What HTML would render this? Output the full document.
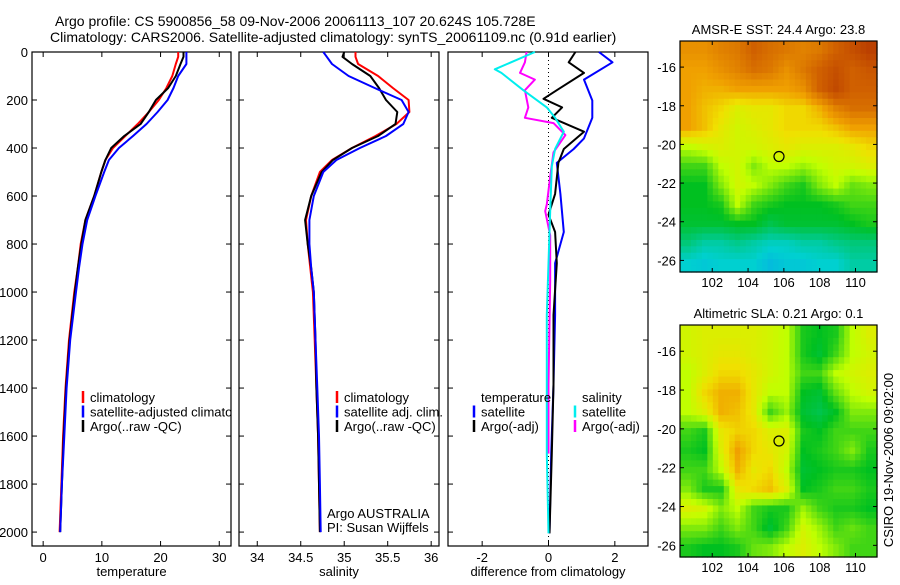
<!DOCTYPE html>
<html><head><meta charset="utf-8"><style>
body{margin:0;background:#fff;}
svg text{font-family:"Liberation Sans",sans-serif;fill:#000;}
</style></head><body>
<svg id="c" width="900" height="580" xmlns="http://www.w3.org/2000/svg">
<text x="55" y="26" font-size="14">Argo profile: CS 5900856_58 09-Nov-2006 20061113_107 20.624S 105.728E</text>
<text x="50" y="42" font-size="14">Climatology: CARS2006. Satellite-adjusted climatology: synTS_20061109.nc (0.91d earlier)</text>
</svg>
<script>
// ---- data ----
const depthTicks=[0,200,400,600,800,1000,1200,1400,1600,1800,2000];
const tempTicks=[0,10,20,30];
const salTicks=[34,34.5,35,35.5,36];
const diffTicks=[-2,0,2];
const profDepth=[0,20,50,100,150,200,250,300,350,400,450,500,600,700,800,900,1000,1200,1400,1600,1800,2000];
const tempClim=[23.0,23.0,22.6,22.0,21.0,19.7,18.0,16.1,14.0,11.9,10.6,9.9,8.7,7.2,6.4,5.9,5.3,4.4,3.8,3.4,3.1,2.8];
const tempSat=[24.4,24.4,24.4,23.0,22.2,21.2,19.5,17.6,15.3,12.9,11.2,10.4,8.9,7.5,6.7,6.1,5.6,4.6,4.0,3.6,3.2,2.9];
const tempArgo=[23.9,23.9,23.4,22.6,21.3,19.2,18.0,16.6,13.8,11.6,10.6,9.9,8.7,7.2,6.5,5.9,5.4,4.5,3.9,3.5,3.2,2.9];
const salClim=[35.13,35.13,35.16,35.39,35.56,35.74,35.75,35.6,35.36,35.09,34.86,34.72,34.62,34.56,34.58,34.61,34.64,34.66,34.68,34.7,34.71,34.72];
const salSat=[34.76,34.8,34.86,35.05,35.35,35.66,35.74,35.68,35.48,35.18,34.91,34.76,34.65,34.6,34.6,34.62,34.65,34.67,34.69,34.71,34.72,34.73];
const salArgo=[35.0,34.98,35.09,35.3,35.4,35.48,35.61,35.59,35.39,35.09,34.87,34.74,34.62,34.55,34.58,34.62,34.65,34.67,34.68,34.7,34.71,34.72];
const dTsatDepth=[0,43,115,202,274,360,404,462,591,750,880,1096,1385,1673,2005];
const dTsat=[1.52,1.93,1.07,1.32,1.32,1.07,0.76,0.25,0.36,0.46,0.2,0.2,0.15,0.08,0.03];
const dTargoDepth=[0,43,87,159,195,231,274,332,404,461,591,678,750,880,1096,1385,1673,2005];
const dTargo=[0.81,0.61,1.07,0.25,-0.15,0.41,0.1,1.07,0.46,0.3,0.2,0.0,0.2,0.25,0.15,0.15,0.1,0.03];
const dSsatDepth=[0,72,87,159,231,274,332,404,476,663,1096,1385,1673,2005];
const dSsat=[-0.41,-1.62,-1.42,-0.76,-0.05,0.2,0.46,0.2,0.1,0.05,-0.05,-0.05,-0.05,0.0];
const dSargoDepth=[0,43,87,115,159,231,274,296,346,418,519,635,663,764,952,1385,1673];
const dSargo=[-0.66,-0.71,-0.86,-0.41,-0.71,-0.61,-0.71,0.15,0.51,0.15,0.05,-0.05,-0.1,0.05,0.05,0.0,0.0];
const lonTicks=[102,104,106,108,110];
const latTicks=[-16,-18,-20,-22,-24,-26];
const sstGrid=[
[0.75,0.75,0.78,0.8,0.85,0.82,0.8,0.78,0.8,0.85,0.9,0.95],
[0.72,0.72,0.75,0.78,0.82,0.8,0.75,0.8,0.85,0.9,0.85,0.88],
[0.72,0.7,0.7,0.72,0.72,0.72,0.72,0.75,0.85,0.92,0.85,0.85],
[0.72,0.68,0.65,0.6,0.62,0.62,0.65,0.65,0.7,0.78,0.82,0.82],
[0.72,0.68,0.62,0.58,0.6,0.62,0.65,0.65,0.65,0.68,0.72,0.72],
[0.55,0.58,0.6,0.58,0.58,0.6,0.62,0.6,0.6,0.6,0.62,0.65],
[0.45,0.45,0.55,0.58,0.5,0.55,0.55,0.52,0.55,0.58,0.58,0.6],
[0.4,0.4,0.5,0.58,0.55,0.5,0.45,0.42,0.5,0.55,0.48,0.5],
[0.4,0.4,0.42,0.55,0.45,0.42,0.4,0.4,0.4,0.42,0.45,0.45],
[0.38,0.38,0.38,0.4,0.4,0.35,0.38,0.38,0.38,0.38,0.4,0.42],
[0.3,0.25,0.25,0.28,0.25,0.22,0.22,0.25,0.25,0.28,0.3,0.3],
[0.2,0.18,0.2,0.2,0.2,0.15,0.18,0.18,0.2,0.2,0.25,0.25]];
const slaGrid=[
[0.58,0.6,0.6,0.6,0.6,0.58,0.55,0.42,0.4,0.42,0.55,0.6],
[0.58,0.6,0.62,0.62,0.6,0.58,0.55,0.42,0.38,0.45,0.55,0.58],
[0.55,0.6,0.65,0.65,0.62,0.58,0.55,0.45,0.45,0.55,0.58,0.6],
[0.55,0.65,0.7,0.7,0.62,0.55,0.55,0.4,0.38,0.48,0.55,0.58],
[0.55,0.6,0.7,0.68,0.62,0.45,0.52,0.38,0.35,0.4,0.5,0.5],
[0.45,0.42,0.62,0.66,0.65,0.6,0.6,0.42,0.4,0.45,0.45,0.45],
[0.42,0.4,0.6,0.72,0.65,0.62,0.58,0.4,0.42,0.45,0.5,0.42],
[0.45,0.45,0.55,0.7,0.62,0.65,0.55,0.38,0.4,0.42,0.42,0.4],
[0.5,0.42,0.42,0.62,0.65,0.68,0.6,0.4,0.42,0.45,0.45,0.42],
[0.6,0.58,0.5,0.55,0.45,0.42,0.42,0.52,0.45,0.42,0.42,0.4],
[0.5,0.5,0.45,0.5,0.45,0.38,0.45,0.58,0.52,0.45,0.48,0.45],
[0.42,0.4,0.4,0.42,0.48,0.5,0.55,0.6,0.55,0.5,0.45,0.45]];
const argoLon=105.728, argoLat=-20.624;

const svg=document.getElementById('c');
const NS='http://www.w3.org/2000/svg';
function mk(tag,attrs,parent){const e=document.createElementNS(NS,tag);for(const k in attrs)e.setAttribute(k,attrs[k]);(parent||svg).appendChild(e);return e;}
function txt(x,y,s,size,anchor){const e=mk('text',{x:x,y:y,'font-size':size,'text-anchor':anchor||'start'});e.textContent=s;return e;}

const T=52,B=546,D0=0,D1=2058;
const yD=d=>T+(d-D0)/(D1-D0)*(B-T);
function panel(name,L,R,x0,x1,xt,xlab,showY){
  const sx=v=>L+(v-x0)/(x1-x0)*(R-L);
  const f=mk('rect',{x:L,y:T,width:R-L,height:B-T,fill:'none',stroke:'#000','stroke-width':1.2});
  
  
  depthTicks.forEach(d=>{const y=yD(d);mk('line',{x1:L,x2:L+5,y1:y,y2:y,stroke:'#000'});mk('line',{x1:R-5,x2:R,y1:y,y2:y,stroke:'#000'});
    if(showY){const t=txt(L-4,y+5,String(d),13,'end');}});
  xt.forEach(v=>{const x=sx(v);mk('line',{x1:x,x2:x,y1:B,y2:B-5,stroke:'#000'});mk('line',{x1:x,x2:x,y1:T,y2:T+5,stroke:'#000'});
    const t=txt(x,B+16,String(v),13,'middle');});
  const xl=txt((L+R)/2,B+30,xlab,13,'middle');
  
  
  return sx;
}
function line(sx,vals,deps,color,w,name){
  const pts=vals.map((v,i)=>sx(v).toFixed(1)+','+yD(deps[i]).toFixed(1)).join(' ');
  const p=mk('polyline',{points:pts,fill:'none',stroke:color,'stroke-width':w,'stroke-linejoin':'round'});
  
  
}
function legend(x,y,color,label,name){
  mk('line',{x1:x,x2:x,y1:y-6,y2:y+6,stroke:color,'stroke-width':2.5});
  const t=txt(x+7,y+5,label,13);
  
  
}
// panel 1
const sT=panel('temperature-panel',32,231,-1.9,32.0,tempTicks,'temperature',true);
line(sT,tempClim,profDepth,'#f00',2,'temp-climatology-line');
line(sT,tempArgo,profDepth,'#000',2,'temp-argo-line');
line(sT,tempSat,profDepth,'#00f',2,'temp-satellite-line');
const clip=mk('clipPath',{id:'cp1'});mk('rect',{x:32,y:52,width:199,height:494},clip);
const lg1=mk('g',{'clip-path':'url(#cp1)'});
[['#f00','climatology'],['#00f','satellite-adjusted climatology'],['#000','Argo(..raw -QC)']].forEach((a,i)=>{
  mk('line',{x1:83,x2:83,y1:391+i*14.5,y2:403+i*14.5,stroke:a[0],'stroke-width':2.5},lg1);
  const t=mk('text',{x:90,y:402+i*14.5,'font-size':13},lg1);t.textContent=a[1];
  });
// panel 2
const sS=panel('salinity-panel',239,439,33.79,36.09,salTicks,'salinity',false);
line(sS,salClim,profDepth,'#f00',2,'sal-climatology-line');
line(sS,salArgo,profDepth,'#000',2,'sal-argo-line');
line(sS,salSat,profDepth,'#00f',2,'sal-satellite-line');
legend(337,397,'#f00','climatology','sal-legend-climatology');
legend(337,411.5,'#00f','satellite adj. clim.','sal-legend-satellite');
legend(337,426,'#000','Argo(..raw -QC)','sal-legend-argo');
txt(327,518,'Argo AUSTRALIA',13);
txt(327,532,'PI: Susan Wijffels',13);
// panel 3
const sD=panel('difference-panel',448,648,-3.03,3.0,diffTicks,'difference from climatology',false);
mk('line',{x1:sD(0),x2:sD(0),y1:T,y2:B,stroke:'#000','stroke-dasharray':'1,3'});
line(sD,dTsat,dTsatDepth,'#00f',2,'diff-temp-satellite-line');
line(sD,dTargo,dTargoDepth,'#000',2,'diff-temp-argo-line');
line(sD,dSargo,dSargoDepth,'#f0f',2,'diff-sal-argo-line');
line(sD,dSsat,dSsatDepth,'#0ee',2,'diff-sal-satellite-line');
txt(481,402,'temperature',13);
legend(474,411.5,'#00f','satellite','legend-temp-satellite');
legend(474,426,'#000','Argo(-adj)','legend-temp-argo');
txt(582,402,'salinity',13);
legend(575,411.5,'#0ee','satellite','legend-sal-satellite');
legend(575,426,'#f0f','Argo(-adj)','legend-sal-argo');

// colormap
const stops=[[0,[16,128,255]],[0.2,[0,208,208]],[0.4,[0,192,32]],[0.55,[192,255,0]],[0.64,[240,224,0]],[0.72,[240,160,0]],[0.85,[208,96,0]],[1,[176,48,0]]];
function cmap(v){for(let i=1;i<stops.length;i++){if(v<=stops[i][0]){const a=stops[i-1],b=stops[i],t=(v-a[0])/(b[0]-a[0]);
  return 'rgb('+a[1].map((c,k)=>Math.round(c+(b[1][k]-c)*t)).join(',')+')';}}return 'rgb(176,48,0)';}
function map(name,top,bot,grid,title){
  const L=680,R=877,lon0=100.2,lon1=111.2,lat0=-14.65,lat1=-26.6;
  const sx=v=>L+(v-lon0)/(lon1-lon0)*(R-L), sy=v=>top+(v-lat0)/(lat1-lat0)*(bot-top);
  const rows=grid.length,cols=grid[0].length;
  const cw=(R-L)/cols,ch=(bot-top)/rows;
  const sub=3;
  for(let r=0;r<rows*sub;r++)for(let c=0;c<cols*sub;c++){
    const fr=Math.min(Math.max((r+0.5)/sub-0.5,0),rows-1),fc=Math.min(Math.max((c+0.5)/sub-0.5,0),cols-1);
    const r0=Math.floor(fr),c0=Math.floor(fc),r1=Math.min(r0+1,rows-1),c1=Math.min(c0+1,cols-1),tr=fr-r0,tc=fc-c0;
    const v=grid[r0][c0]*(1-tr)*(1-tc)+grid[r0][c1]*(1-tr)*tc+grid[r1][c0]*tr*(1-tc)+grid[r1][c1]*tr*tc;
    const cell=mk('rect',{x:(L+c*cw/sub).toFixed(2),y:(top+r*ch/sub).toFixed(2),width:(cw/sub+0.6).toFixed(2),height:(ch/sub+0.6).toFixed(2),fill:cmap(v)});
    
    
  }
  const f=mk('rect',{x:L,y:top,width:R-L,height:bot-top,fill:'none',stroke:'#000','stroke-width':1.2});
  
  
  lonTicks.forEach(v=>{const x=sx(v);mk('line',{x1:x,x2:x,y1:bot,y2:bot-4,stroke:'#000'});mk('line',{x1:x,x2:x,y1:top,y2:top+4,stroke:'#000'});
    const t=txt(x,bot+15,String(v),13,'middle');});
  latTicks.forEach(v=>{const y=sy(v);mk('line',{x1:L,x2:L+4,y1:y,y2:y,stroke:'#000'});mk('line',{x1:R-4,x2:R,y1:y,y2:y,stroke:'#000'});
    const t=txt(L-4,y+5,String(v),13,'end');});
  const c=mk('circle',{cx:sx(argoLon),cy:sy(argoLat),r:5,fill:'none',stroke:'#000','stroke-width':1.2});
  
  
  const t=txt((L+R)/2,top-7,title,13,'middle');
  
  
}
map('sst-map',41,272,sstGrid,'AMSR-E SST: 24.4 Argo: 23.8');
map('sla-map',325,557,slaGrid,'Altimetric SLA: 0.21 Argo: 0.1');
const cs=txt(0,0,'CSIRO 19-Nov-2006 09:02:00',13,'middle');
cs.setAttribute('transform','translate(893,460) rotate(-90)');


</script>
</body></html>
